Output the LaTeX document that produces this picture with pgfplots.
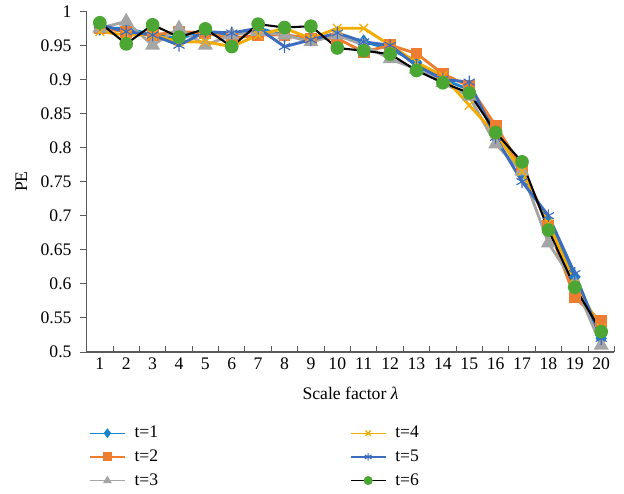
\documentclass[border=0pt]{standalone}
\usepackage{fontspec}
\setmainfont{Liberation Serif}
\usepackage{pgfplots}
\pgfplotsset{compat=1.18}
\definecolor{cT1}{RGB}{24,132,206}
\definecolor{cT2}{RGB}{237,125,49}
\definecolor{cT3}{RGB}{165,165,165}
\definecolor{cT4}{RGB}{245,172,0}
\definecolor{cT5}{RGB}{60,108,190}
\definecolor{cT6}{RGB}{76,166,52}
\definecolor{axgray}{RGB}{90,90,90}

\begin{document}
\begin{tikzpicture}
\begin{axis}[
  scale only axis,
  width=329pt,height=212.5pt,
  font=\fontsize{11}{13}\selectfont,
  xmin=0.5,xmax=20.5,ymin=0.5,ymax=1,
  xtick={1,...,20},
  minor xtick={1.5,2.5,...,20.5},
  major x tick style={draw=none},
  minor tick length=4pt,
  major tick length=4.4pt,
  xtick align=inside, ytick align=outside,
  ytick={0.5,0.55,...,1.01},
  yticklabels={0.5,0.55,0.6,0.65,0.7,0.75,0.8,0.85,0.9,0.95,1},
  yticklabel style={xshift=-1.5pt},
  /pgf/number format/assume math mode=true,
  axis x line*=bottom, axis y line*=left,
  axis line style={axgray,line width=0.7pt},
  every tick/.style={axgray,line width=0.6pt},
  xlabel={Scale factor \textit{λ}},
  ylabel={PE},
  xlabel style={yshift=-4pt},
  ylabel style={yshift=1.5pt},
  legend columns=3, transpose legend,
  legend cell align=left,
  legend style={draw=none,fill=none,at={(rel axis cs:-0.005,-0.2)},anchor=north west,
    font=\fontsize{11}{13}\selectfont,
    nodes={inner sep=1.5pt},
    /tikz/every odd column/.append style={column sep=4pt},
    /tikz/every even column/.append style={column sep=118pt},
    row sep=3pt},
  legend image post style={line width=0.8pt,mark size=2.4pt},
  legend image code/.code={\draw[mark repeat=2,mark phase=2]
    plot coordinates {(0pt,0pt) (11pt,0pt) (22pt,0pt)};},
]
\addplot[cT1,line width=1.8pt,mark=diamond*,mark size=3.2pt] coordinates {
(1,0.975)(2,0.975)(3,0.965)(4,0.960)(5,0.970)(6,0.965)(7,0.975)(8,0.965)(9,0.960)(10,0.965)
(11,0.955)(12,0.945)(13,0.925)(14,0.900)(15,0.885)(16,0.825)(17,0.765)(18,0.690)(19,0.610)(20,0.520)};
\addlegendentry{t=1}
\addplot[cT2,line width=1.8pt,mark=square*,mark size=2.8pt] coordinates {
(1,0.975)(2,0.970)(3,0.965)(4,0.970)(5,0.968)(6,0.960)(7,0.965)(8,0.965)(9,0.960)(10,0.960)
(11,0.940)(12,0.950)(13,0.938)(14,0.908)(15,0.890)(16,0.832)(17,0.770)(18,0.685)(19,0.580)(20,0.545)};
\addlegendentry{t=2}
\addplot[cT3,line width=1.8pt,mark=triangle*,mark size=3.6pt] coordinates {
(1,0.975)(2,0.985)(3,0.950)(4,0.975)(5,0.950)(6,0.965)(7,0.970)(8,0.965)(9,0.955)(10,0.965)
(11,0.950)(12,0.930)(13,0.915)(14,0.895)(15,0.875)(16,0.805)(17,0.765)(18,0.660)(19,0.600)(20,0.510)};
\addlegendentry{t=3}
\addplot[cT4,line width=1.8pt,mark=x,mark size=3.8pt,mark options={line width=0.8pt}] coordinates {
(1,0.970)(2,0.965)(3,0.965)(4,0.955)(5,0.955)(6,0.948)(7,0.965)(8,0.975)(9,0.960)(10,0.975)
(11,0.975)(12,0.950)(13,0.925)(14,0.905)(15,0.862)(16,0.820)(17,0.765)(18,0.690)(19,0.600)(20,0.535)};
\addlegendentry{t=4}
\addplot[cT5,line width=1.8pt,mark=asterisk,mark size=4pt,mark options={line width=0.7pt}] coordinates {
(1,0.980)(2,0.970)(3,0.965)(4,0.950)(5,0.970)(6,0.968)(7,0.975)(8,0.948)(9,0.958)(10,0.968)
(11,0.955)(12,0.950)(13,0.920)(14,0.900)(15,0.896)(16,0.815)(17,0.750)(18,0.700)(19,0.615)(20,0.520)};
\addlegendentry{t=5}
\addplot[black,line width=1.3pt,mark=*,mark size=3.6pt,mark options={draw=cT6,fill=cT6}] coordinates {
(1,0.983)(2,0.952)(3,0.980)(4,0.962)(5,0.974)(6,0.948)(7,0.981)(8,0.976)(9,0.978)(10,0.946)
(11,0.942)(12,0.937)(13,0.913)(14,0.895)(15,0.880)(16,0.822)(17,0.779)(18,0.679)(19,0.595)(20,0.530)};
\addlegendentry{t=6}
\end{axis}
\path ([xshift=-54pt]current axis.south west) ([xshift=6pt]current axis.south east);
\end{tikzpicture}
\end{document}
